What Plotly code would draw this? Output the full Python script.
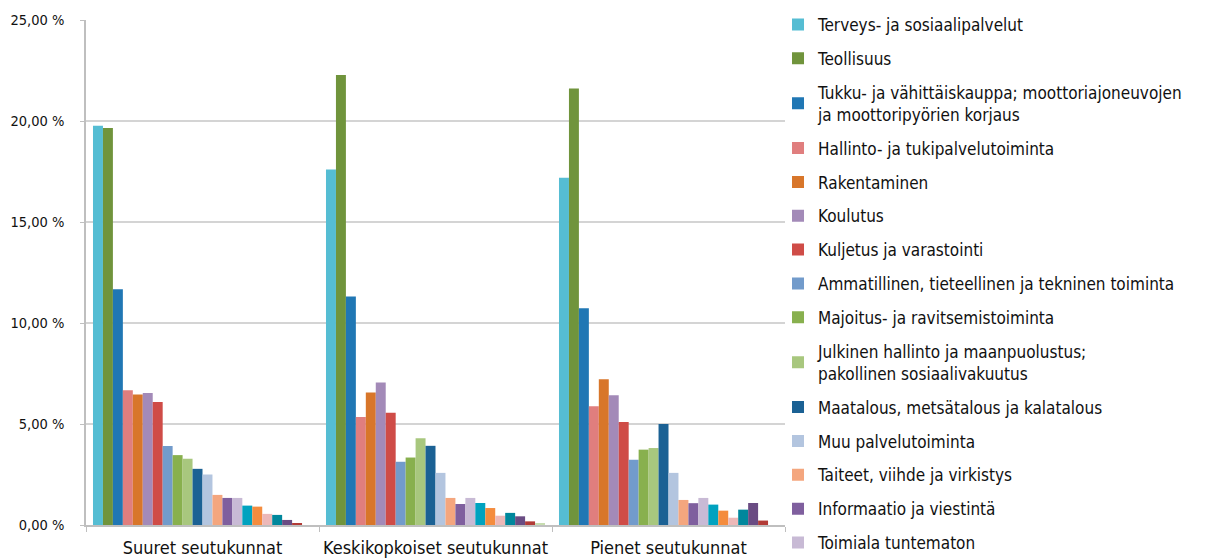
import plotly.graph_objects as go

categories = ["Suuret seutukunnat", "Keskikopkoiset seutukunnat", "Pienet seutukunnat"]

series_names = [
    "Terveys- ja sosiaalipalvelut",
    "Teollisuus",
    "Tukku- ja vähittäiskauppa; moottoriajoneuvojen<br>ja moottoripyörien korjaus",
    "Hallinto- ja tukipalvelutoiminta",
    "Rakentaminen",
    "Koulutus",
    "Kuljetus ja varastointi",
    "Ammatillinen, tieteellinen ja tekninen toiminta",
    "Majoitus- ja ravitsemistoiminta",
    "Julkinen hallinto ja maanpuolustus;<br>pakollinen sosiaalivakuutus",
    "Maatalous, metsätalous ja kalatalous",
    "Muu palvelutoiminta",
    "Taiteet, viihde ja virkistys",
    "Informaatio ja viestintä",
    "Toimiala tuntematon",
    "Rahoitus- ja vakuutustoiminta",
    "Kiinteistöalan toiminta",
    "Vesihuolto, viemäri- ja jätevesihuolto, jätehuolto",
    "Sähkö-, kaasu- ja lämpöhuolto, jäähdytysliiketoiminta",
    "Kaivostoiminta ja louhinta",
    "Kotitalouksien toiminta työnantajina",
    "Kansainvälisten organisaatioiden toiminta",
]
legend_visible_count = 15

suuret = [19.77, 19.65, 11.67, 6.67, 6.46, 6.54, 6.09, 3.91, 3.46, 3.28, 2.78,
          2.50, 1.49, 1.34, 1.34, 0.96, 0.91, 0.55, 0.50, 0.25, 0.10, 0.0]
keskikokoiset = [17.60, 22.28, 11.31, 5.35, 6.56, 7.05, 5.56, 3.13, 3.34, 4.29, 3.92,
                 2.58, 1.34, 1.04, 1.34, 1.09, 0.84, 0.46, 0.60, 0.43, 0.18, 0.07]
pienet = [17.19, 21.61, 10.73, 5.88, 7.22, 6.42, 5.10, 3.23, 3.73, 3.81, 5.00,
          2.58, 1.24, 1.08, 1.34, 1.01, 0.71, 0.36, 0.76, 1.09, 0.22, 0.0]

y_ticks = [0, 5, 10, 15, 20, 25]
y_tick_labels = ["0,00 %", "5,00 %", "10,00 %", "15,00 %", "20,00 %", "25,00 %"]

colors = ["#55BDD3", "#70943C", "#2077B4", "#E07E7E", "#D8762A", "#A38AB8",
          "#CF4C47", "#729BCB", "#88B04E", "#A8C77E", "#1B6194", "#B3C5DF",
          "#F4A67E", "#7F5F9E", "#C8BAD5", "#00A2BF", "#F48C3E", "#ECB8B8",
          "#00879C", "#6A4C83", "#B23B36", "#C7DDB0"]

FONT = "DejaVu Sans Condensed, Liberation Sans Narrow, sans-serif"

fig = go.Figure()
for i, name in enumerate(series_names):
    fig.add_trace(go.Bar(
        x=categories,
        y=[suuret[i], keskikokoiset[i], pienet[i]],
        name=name,
        legendgroup=str(i),
        showlegend=i < legend_visible_count,
        marker=dict(color=colors[i], line=dict(width=0)),
    ))

fig.update_layout(
    width=1205, height=560,
    margin=dict(l=78, r=428, t=12, b=43, autoexpand=False),
    paper_bgcolor="white", plot_bgcolor="white",
    barmode="group", bargap=0.06, bargroupgap=0,
    font=dict(family=FONT, size=17, color="#111111"),
    legend=dict(
        x=0.99, xanchor="left", y=1.026, yanchor="top",
        font=dict(family=FONT, size=17, color="#111111"),
        tracegroupgap=8.75, bgcolor="rgba(0,0,0,0)",
        maxheight=1.0,
    ),
    xaxis=dict(
        showline=True, linecolor="#BFBFBF", linewidth=1.5,
        ticks="outside", tickson="boundaries", ticklen=5, tickcolor="#BFBFBF",
        tickangle=0, automargin=False, ticklabelstandoff=6,
        tickfont=dict(family=FONT, size=18, color="#111111"),
    ),
    yaxis=dict(
        range=[0, 25], tickmode="array", tickvals=y_ticks, ticktext=y_tick_labels,
        showline=True, linecolor="#BFBFBF", linewidth=1.5,
        ticks="outside", ticklen=4, tickcolor="#BFBFBF",
        gridcolor="#D4D4D4", gridwidth=1.5, zeroline=False,
        automargin=False,
        tickfont=dict(family=FONT, size=14.5, color="#111111"),
        ticklabelstandoff=13,
    ),
)

fig.write_html("out.html")
